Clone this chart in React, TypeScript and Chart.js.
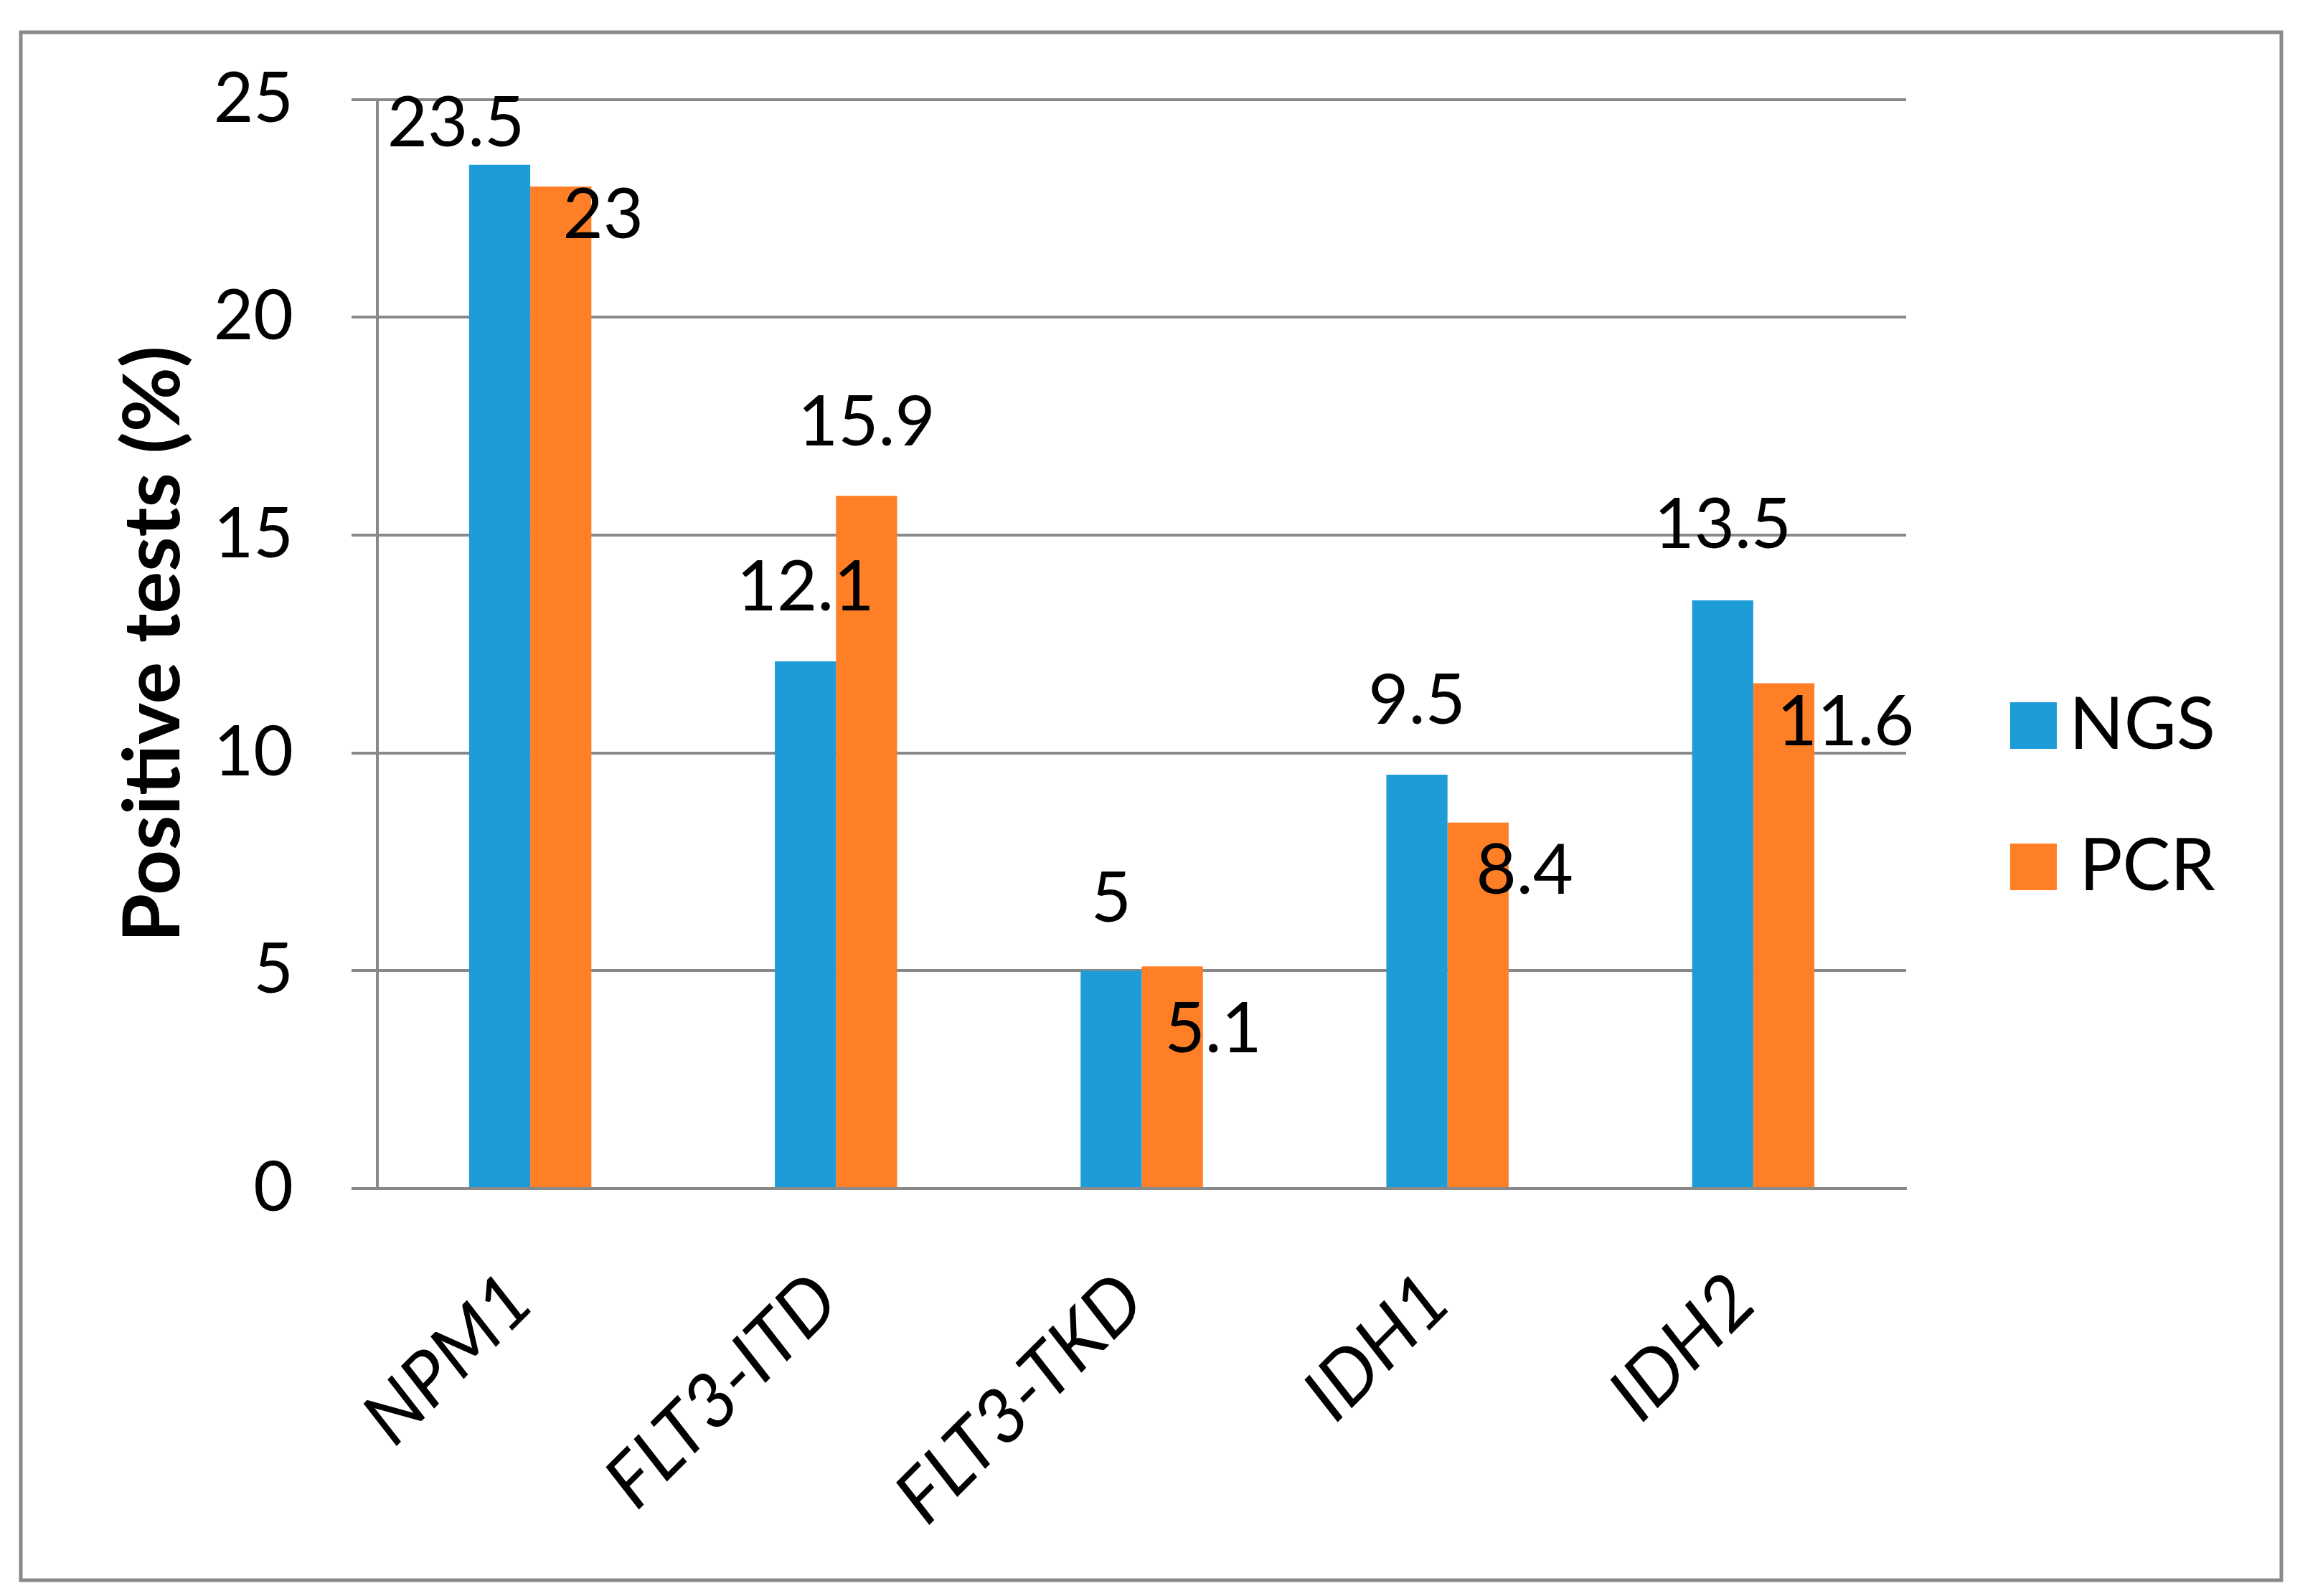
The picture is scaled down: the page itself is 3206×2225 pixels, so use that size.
import React, { useEffect, useRef } from 'react';
import { Chart, registerables } from 'chart.js';

Chart.register(...registerables);

const categories = ['NPM1', 'FLT3-ITD', 'FLT3-TKD', 'IDH1', 'IDH2'];
const seriesNames = ['NGS', 'PCR'];
const ngsValues = [23.5, 12.1, 5, 9.5, 13.5];
const pcrValues = [23, 15.9, 5.1, 8.4, 11.6];
const yTickValues = [0, 5, 10, 15, 20, 25];
const yTitle = 'Positive tests (%)';

const FONT = 'Lato, "Open Sans", sans-serif';
const GRID = '#898989';
const BLUE = '#1E9CD7';
const ORANGE = '#FF7F27';

// value label placement (px) relative to each bar's top-centre
const labelOffsets = [
  [[-61, -57], [0, -102], [0, -100], [0, -102], [0, -104]],
  [[59, 41], [0, -102], [57, 88], [65, 68], [86, 55]],
];

const W = 3206;
const H = 2225;

const framePlugin = {
  id: 'frame',
  beforeDraw(chart: any) {
    const ctx = chart.ctx;
    ctx.save();
    ctx.fillStyle = '#ffffff';
    ctx.fillRect(0, 0, chart.width, chart.height);
    ctx.strokeStyle = GRID;
    ctx.lineWidth = 5;
    ctx.strokeRect(29, 45, 3151, 2158);
    ctx.restore();
  },
};

const legendFitPlugin = {
  id: 'legendFit',
  beforeLayout(chart: any) {
    const lg = chart.legend;
    if (lg && !lg.__patched) {
      const orig = lg.fit.bind(lg);
      lg.fit = function () {
        orig();
        this.width = 549;
      };
      lg.__patched = true;
    }
  },
  afterLayout(chart: any) {
    const lg = chart.legend;
    if (lg) {
      lg.left = chart.chartArea.right + 48;
      lg.right = 3088;
      lg.width = lg.right - lg.left;
      lg.top -= 71;
      lg.bottom -= 71;
    }
  },
};

const valueLabelPlugin = {
  id: 'valueLabels',
  afterDatasetsDraw(chart: any) {
    const ctx = chart.ctx;
    ctx.save();
    ctx.font = `normal 97px ${FONT}`;
    ctx.fillStyle = '#000000';
    ctx.textAlign = 'center';
    ctx.textBaseline = 'middle';
    chart.data.datasets.forEach((ds: any, i: number) => {
      const meta = chart.getDatasetMeta(i);
      meta.data.forEach((bar: any, j: number) => {
        const [dx, dy] = labelOffsets[i][j];
        ctx.fillText(String(ds.data[j]), bar.x + dx, bar.y + dy);
      });
    });
    ctx.restore();
  },
};

export default function App() {
  const ref = useRef<HTMLCanvasElement>(null);
  useEffect(() => {
    if (!ref.current) return;
    const chart = new Chart(ref.current, {
      type: 'bar',
      data: {
        labels: categories,
        datasets: [
          { label: seriesNames[0], data: ngsValues, backgroundColor: BLUE, borderWidth: 0 },
          { label: seriesNames[1], data: pcrValues, backgroundColor: ORANGE, borderWidth: 0 },
        ],
      },
      options: {
        responsive: false,
        devicePixelRatio: 1,
        animation: false,
        layout: { padding: { left: 100, top: 137, right: 0, bottom: 0 } },
        datasets: { bar: { categoryPercentage: 0.4, barPercentage: 1.0 } },
        scales: {
          x: {
            grid: { display: false, drawTicks: false },
            border: { display: true, color: GRID, width: 4 },
            ticks: {
              color: '#000',
              font: { family: FONT, size: 104, style: 'italic' },
              minRotation: 45,
              maxRotation: 45,
              padding: 95,
              labelOffset: -14,
            },
            afterFit: (scale: any) => {
              scale.height = H - 1657;
            },
          },
          y: {
            min: 0,
            max: 25,
            afterBuildTicks: (scale: any) => {
              scale.ticks = yTickValues.map((v) => ({ value: v }));
            },
            grid: { color: GRID, lineWidth: 4, tickLength: 36, drawTicks: true },
            border: { display: true, color: GRID, width: 4 },
            ticks: {
              color: '#000',
              font: { family: FONT, size: 96 },
              padding: 81,
            },
            title: {
              display: true,
              text: yTitle,
              color: '#000',
              font: { family: FONT, size: 110, weight: 'bold' },
              padding: { top: 49, bottom: 0 },
            },
            afterFit: (scale: any) => {
              scale.width = 526 - 100;
            },
          },
        },
        plugins: {
          legend: {
            position: 'right',
            labels: {
              boxWidth: 65,
              boxHeight: 65,
              padding: 97,
              color: '#000',
              textAlign: 'right',
              font: { family: FONT, size: 100 },
            },
          },
          tooltip: { enabled: false },
        },
      },
      plugins: [framePlugin, legendFitPlugin, valueLabelPlugin],
    } as any);
    return () => chart.destroy();
  }, []);
  return (
    <div style={{ position: 'fixed', left: 0, top: 0, width: W, height: H }}>
      <canvas ref={ref} width={W} height={H} style={{ display: 'block', width: W, height: H }} />
    </div>
  );
}
